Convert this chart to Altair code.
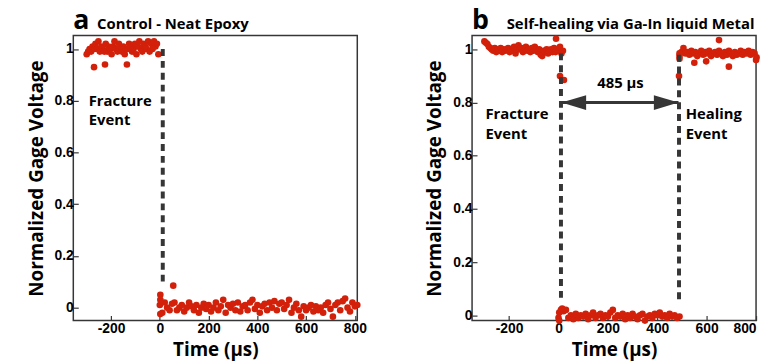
import altair as alt
import pandas as pd

RED = "#d2200a"
DARK = "#363636"
TITLE_FONT = "Open Sans"
LABEL_FONT = "Liberation Sans"

# ---------------- Panel a : Control - Neat Epoxy ----------------
a_hi_x = [-300, -294, -288, -282, -276, -270, -264, -258, -252, -246,
          -240, -234, -228, -222, -216, -210, -204, -198, -192, -186,
          -180, -174, -168, -162, -156, -150, -144, -138, -132, -126,
          -120, -114, -108, -102, -96, -90, -84, -78, -72, -66,
          -60, -54, -48, -42, -36, -30, -24, -18, -12, -6]
a_hi_y = [0.98, 0.99, 1.00, 0.99, 1.01, 1.00, 1.02, 1.00, 1.03, 0.99,
          1.01, 1.00, 0.99, 1.02, 0.99, 1.01, 1.00, 0.98, 1.01, 1.03,
          1.00, 0.99, 1.02, 1.00, 0.99, 1.01, 0.98, 1.00, 1.00, 1.02,
          1.01, 0.99, 1.00, 1.02, 0.98, 1.01, 1.03, 1.00, 0.99, 1.02,
          1.01, 1.00, 1.03, 0.99, 1.02, 1.00, 1.03, 1.01, 1.02, 0.98]
a_lo_x = [0, 10, 20, 30, 40, 50, 60, 70, 80, 90,
          100, 110, 120, 130, 140, 150, 160, 170, 180, 190,
          200, 210, 220, 230, 240, 250, 260, 270, 280, 290,
          300, 310, 320, 330, 340, 350, 360, 370, 380, 390,
          400, 410, 420, 430, 440, 450, 460, 470, 480, 490,
          500, 510, 520, 530, 540, 550, 560, 570, 580, 590,
          600, 610, 620, 630, 640, 650, 660, 670, 680, 690,
          700, 710, 720, 730, 740, 750, 760, 770, 780, 790,
          800, 810]
a_lo_y = [0.01, -0.02, 0.02, 0.00, -0.01, 0.015, 0.02, -0.01, 0.00, 0.01,
          -0.015, 0.00, 0.02, 0.005, -0.01, 0.01, -0.02, 0.00, 0.015, -0.005,
          0.01, -0.015, 0.00, 0.02, -0.01, 0.005, 0.03, -0.02, 0.01, 0.00,
          0.015, -0.01, 0.02, -0.015, 0.005, 0.01, -0.01, 0.02, 0.03, -0.005,
          0.01, -0.02, 0.005, 0.015, -0.01, 0.02, 0.00, 0.025, -0.01, 0.015,
          0.02, -0.005, 0.01, 0.03, -0.02, 0.00, 0.015, -0.01, -0.035, 0.005,
          -0.01, 0.00, 0.01, -0.015, 0.005, -0.01, 0.00, -0.02, 0.01, 0.02,
          -0.005, -0.035, 0.01, 0.02, -0.01, 0.025, 0.035, 0.00, -0.015, 0.02,
          0.005, 0.01]
a_extra_x = [-270, -225, -135, 2, 2, 2, 55]
a_extra_y = [0.93, 0.94, 0.94, 0.05, -0.025, 0.03, 0.085]

a_dash_t = [12]
a_dash_top = [1.0]
a_dash_bottom = [0.1]

a_text_t = [-292]
a_text_v = [0.80]
a_text = ["Fracture\nEvent"]

# ---------------- Panel b : Self-healing via Ga-In liquid Metal ----------------
b_hi1_x = [-300, -294, -288, -282, -276, -270, -264, -258, -252, -246,
           -240, -234, -228, -222, -216, -210, -204, -198, -192, -186,
           -180, -174, -168, -162, -156, -150, -144, -138, -132, -126,
           -120, -114, -108, -102, -96, -90, -84, -78, -72, -66,
           -60, -54, -48, -42, -36, -30, -24, -18, -12, -6,
           0, 6, 12, 18]
b_hi1_y = [1.03, 1.025, 1.02, 1.01, 1.005, 1.00, 0.995, 1.005, 0.99, 1.00,
           0.995, 1.005, 0.99, 1.00, 0.995, 1.00, 1.005, 0.99, 1.00, 0.995,
           1.01, 0.985, 1.00, 1.015, 1.00, 1.005, 0.99, 1.00, 1.01, 0.995,
           1.00, 0.99, 1.005, 0.995, 1.01, 1.00, 0.99, 1.00, 0.98, 0.975,
           0.995, 0.99, 1.00, 0.985, 0.995, 1.00, 0.99, 1.005, 0.99, 1.00,
           0.995, 1.01, 0.985, 0.995]
b_lo_x = [0, 10, 20, 30, 40, 50, 60, 70, 80, 90,
          100, 110, 120, 130, 140, 150, 160, 170, 180, 190,
          200, 210, 220, 230, 240, 250, 260, 270, 280, 290,
          300, 310, 320, 330, 340, 350, 360, 370, 380, 390,
          400, 410, 420, 430, 440, 450, 460, 470, 480, 490]
b_lo_y = [-0.01, 0.02, 0.015, 0.02, -0.01, 0.00, -0.015, 0.005, -0.01, 0.00,
          -0.005, 0.005, -0.015, 0.00, 0.01, -0.01, 0.00, 0.005, -0.01, 0.00,
          -0.005, 0.01, 0.02, -0.01, 0.00, -0.005, 0.005, -0.015, 0.00, -0.01,
          0.005, -0.005, -0.015, 0.00, 0.005, -0.02, -0.005, 0.00, -0.01, 0.005,
          0.00, 0.01, -0.005, 0.00, -0.01, 0.005, -0.005, 0.00, -0.01, -0.005]
b_hi2_x = [490, 498, 506, 514, 522, 530, 538, 546, 554, 562,
           570, 578, 586, 594, 602, 610, 618, 626, 634, 642,
           650, 658, 666, 674, 682, 690, 698, 706, 714, 722,
           730, 738, 746, 754, 762, 770, 778, 786, 794, 802]
b_hi2_y = [0.975, 0.99, 1.005, 0.985, 0.99, 0.98, 0.995, 0.985, 0.99, 0.975,
           0.985, 0.995, 0.98, 0.99, 0.985, 0.995, 0.975, 0.985, 0.99, 0.98,
           0.995, 0.985, 0.975, 0.99, 0.98, 0.995, 0.985, 0.975, 0.99, 0.98,
           0.985, 0.995, 0.98, 0.99, 0.985, 0.995, 0.98, 0.99, 0.985, 0.97]
b_extra_x = [-10, 6, 22, 3, 3, 15, 488, 490, 490, 550, 598, 650, 690, 800]
b_extra_y = [1.04, 0.90, 0.885, -0.02, 0.01, 0.025, 0.90, 0.985, 0.965,
             0.95, 0.955, 1.035, 0.935, 0.96]

b_dash_t = [10, 488]
b_dash_top = [0.985, 0.98]
b_dash_bottom = [0.05, 0.05]

b_arrow_from = [12]
b_arrow_to = [486]
b_arrow_v = [0.8]
b_arrow_label = ["485 µs"]
b_arrow_label_t = [251]
b_arrow_label_v = [0.874]

b_text_t = [-296, 515]
b_text_v = [0.755, 0.755]
b_text = ["Fracture\nEvent", "Healing\nEvent"]

x_ticks = [-200, 0, 200, 400, 600, 800]
y_ticks = [0, 0.2, 0.4, 0.6, 0.8, 1]


def panel(pts, xdom, ydom, dash_df, text_df, letter, title, extra_layers=()):
    xs = alt.Scale(domain=xdom, nice=False, zero=False)
    ys = alt.Scale(domain=ydom, nice=False, zero=False)
    xaxis = alt.Axis(values=x_ticks, title="Time (µs)",
                     labelExpr="'' + datum.value",
                     tickSize={"expr": "-5"}, labelPadding=6, titlePadding=5)
    yaxis = alt.Axis(values=y_ticks, title="Normalized Gage Voltage",
                     labelExpr="'' + datum.value",
                     tickSize={"expr": "-5"}, labelPadding=5, titlePadding=8)
    dots = alt.Chart(pts).mark_circle(size=45, color=RED, opacity=1).encode(
        x=alt.X("t:Q", scale=xs, axis=xaxis),
        y=alt.Y("v:Q", scale=ys, axis=yaxis),
    )
    dashes = alt.Chart(dash_df).mark_rule(
        color=DARK, strokeWidth=4, strokeDash=[7, 5]
    ).encode(x="t:Q", y="top:Q", y2="bottom:Q")
    texts = alt.Chart(text_df).mark_text(
        align="left", baseline="middle", font=TITLE_FONT, fontWeight="bold",
        fontSize=15, lineBreak="\n", lineHeight=20, color="black"
    ).encode(x="t:Q", y="v:Q", text="s:N")
    head = alt.Chart(pd.DataFrame({"s": [letter]})).mark_text(
        align="left", baseline="alphabetic", font=TITLE_FONT, fontWeight="bold",
        fontSize=27, color="black"
    ).encode(x=alt.value(0), y=alt.value(-7), text="s:N")
    ttl = alt.Chart(pd.DataFrame({"s": [title]})).mark_text(
        align="left", baseline="alphabetic", font=TITLE_FONT, fontWeight="bold",
        fontSize=15, color="black"
    ).encode(x=alt.value(24 if letter == "a" else 35), y=alt.value(-7), text="s:N")
    layers = [dots, dashes, texts, *extra_layers, head, ttl]
    return alt.layer(*layers).properties(width=287, height=288)


a_pts = pd.DataFrame({"t": a_hi_x + a_lo_x + a_extra_x,
                      "v": a_hi_y + a_lo_y + a_extra_y})
a_dash = pd.DataFrame({"t": a_dash_t, "top": a_dash_top, "bottom": a_dash_bottom})
a_txt = pd.DataFrame({"t": a_text_t, "v": a_text_v, "s": a_text})

b_pts = pd.DataFrame({"t": b_hi1_x + b_lo_x + b_hi2_x + b_extra_x,
                      "v": b_hi1_y + b_lo_y + b_hi2_y + b_extra_y})
b_dash = pd.DataFrame({"t": b_dash_t, "top": b_dash_top, "bottom": b_dash_bottom})
b_txt = pd.DataFrame({"t": b_text_t, "v": b_text_v, "s": b_text})

arrow_df = pd.DataFrame({"t0": b_arrow_from, "t1": b_arrow_to, "v": b_arrow_v})
shaft = alt.Chart(arrow_df).mark_rule(color=DARK, strokeWidth=3).encode(
    x="t0:Q", x2="t1:Q", y="v:Q")
left_head = alt.Chart(arrow_df).mark_point(
    shape="M0,0 L2,-0.6 L2,0.6 Z", size=620, filled=True, color=DARK, opacity=1
).encode(x="t0:Q", y="v:Q")
right_head = alt.Chart(arrow_df).mark_point(
    shape="M0,0 L-2,-0.6 L-2,0.6 Z", size=620, filled=True, color=DARK, opacity=1
).encode(x="t1:Q", y="v:Q")
arrow_lbl = alt.Chart(pd.DataFrame({"t": b_arrow_label_t, "v": b_arrow_label_v,
                                    "s": b_arrow_label})).mark_text(
    align="center", baseline="middle", font=TITLE_FONT, fontWeight="bold",
    fontSize=15, color="black"
).encode(x="t:Q", y="v:Q", text="s:N")

pa = panel(a_pts, [-355, 810], [-0.05, 1.052], a_dash, a_txt, "a",
           "Control - Neat Epoxy")
pb = panel(b_pts, [-350, 800], [-0.02, 1.052], b_dash, b_txt, "b",
           "Self-healing via Ga-In liquid Metal",
           extra_layers=(shaft, left_head, right_head, arrow_lbl))

chart = alt.hconcat(pa, pb, spacing=58).properties(
    padding={"left": 18, "top": -4, "right": 0, "bottom": 0},
    background="white",
).configure_view(stroke=DARK, strokeWidth=1.5).configure_axis(
    domain=False, grid=False,
    labelFont=LABEL_FONT, labelFontWeight="bold", labelFontSize=14, labelColor="black",
    tickColor=DARK, tickWidth=1.2,
    titleFont=TITLE_FONT, titleFontWeight="bold", titleFontSize=19, titleColor="black",
)

chart.save("out.html", embed_options={"renderer": "svg", "actions": False})
